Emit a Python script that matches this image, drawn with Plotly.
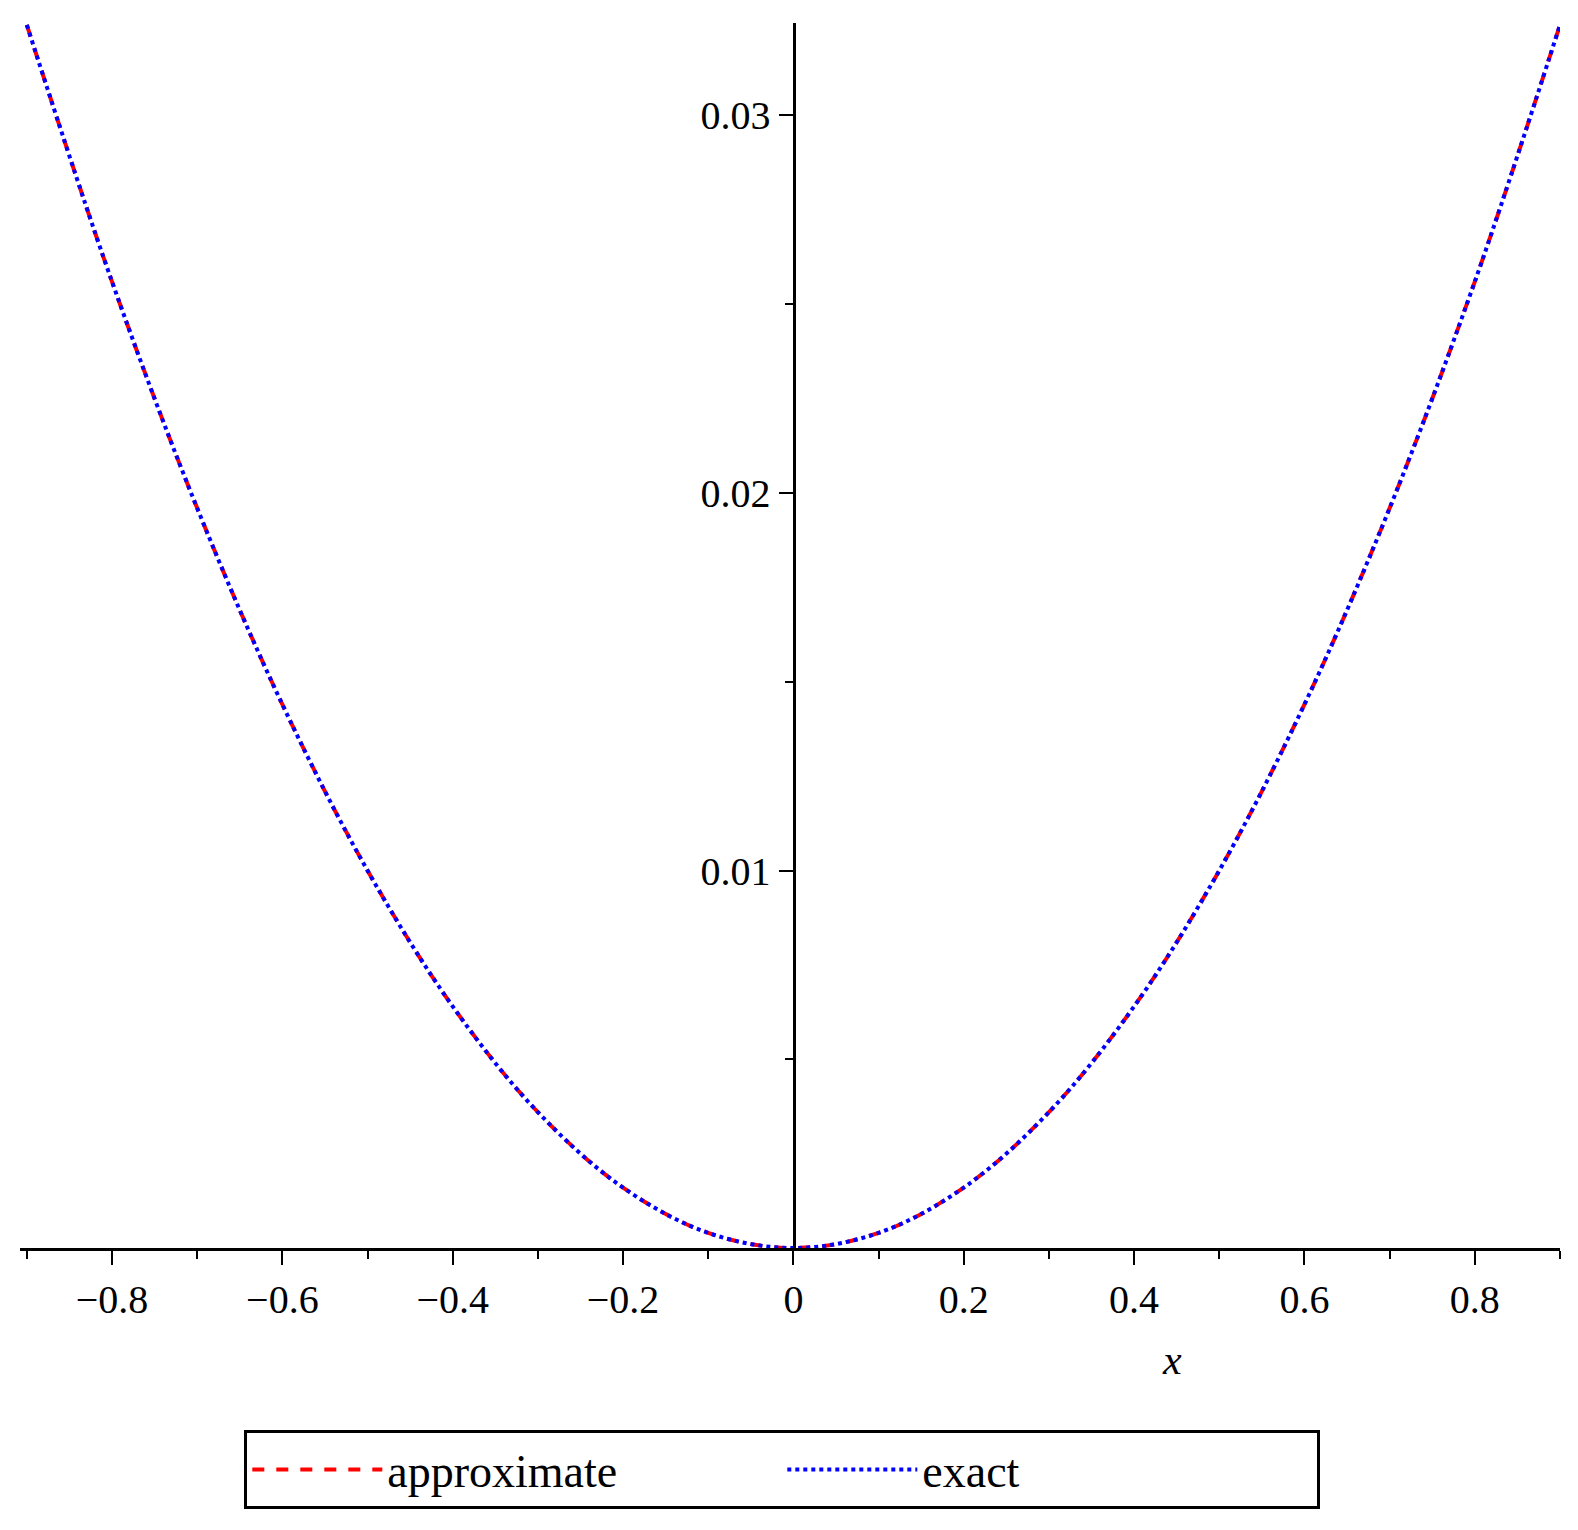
import plotly.graph_objects as go

x_vals = [-0.9, -0.8, -0.7, -0.6, -0.5, -0.4, -0.3, -0.2, -0.1, 0.0, 0.1, 0.2, 0.3, 0.4, 0.5, 0.6, 0.7, 0.8, 0.9]
approx_vals = [0.0324, 0.0256, 0.0196, 0.0144, 0.0100, 0.0064, 0.0036, 0.0016, 0.0004, 0.0, 0.0004, 0.0016, 0.0036, 0.0064, 0.0100, 0.0144, 0.0196, 0.0256, 0.0324]
exact_vals = [0.0324, 0.0256, 0.0196, 0.0144, 0.0100, 0.0064, 0.0036, 0.0016, 0.0004, 0.0, 0.0004, 0.0016, 0.0036, 0.0064, 0.0100, 0.0144, 0.0196, 0.0256, 0.0324]
x_ticks = [-0.8, -0.6, -0.4, -0.2, 0, 0.2, 0.4, 0.6, 0.8]
x_ticklabels = ["−0.8", "−0.6", "−0.4", "−0.2", "0", "0.2", "0.4", "0.6", "0.8"]
y_ticks = [0.01, 0.02, 0.03]
y_ticklabels = ["0.01", "0.02", "0.03"]

font = "Liberation Serif"
fig = go.Figure()
fig.add_trace(go.Scatter(x=x_vals, y=approx_vals, mode="lines", name="approximate",
                         line=dict(color="red", width=4, dash="dash", shape="spline")))
fig.add_trace(go.Scatter(x=x_vals, y=exact_vals, mode="lines", name="exact",
                         line=dict(color="blue", width=4, dash="dot", shape="spline")))

fig.update_layout(
    width=1578, height=1530, plot_bgcolor="white", paper_bgcolor="white",
    margin=dict(l=12, r=26, t=15, b=290),
    font=dict(family=font, size=36, color="black"),
    showlegend=True,
    legend=dict(orientation="h", x=0.495, xanchor="center", y=-0.1486, yanchor="top",
                bordercolor="black", borderwidth=3, font=dict(size=46, family=font),
                itemwidth=130, entrywidth=390),
    xaxis=dict(range=[-0.908, 0.9], tickvals=x_ticks, ticktext=x_ticklabels,
               showgrid=False, zeroline=False, showline=True, linecolor="black", linewidth=3,
               ticks="outside", ticklen=14, tickwidth=2, tickcolor="black",
               minor=dict(tickvals=[-0.9, -0.7, -0.5, -0.3, -0.1, 0.1, 0.3, 0.5, 0.7, 0.9],
                          ticks="outside", ticklen=8, tickwidth=2, tickcolor="black"),
               tickfont=dict(size=40)),
    yaxis=dict(range=[0, 0.03245], tickvals=y_ticks, ticktext=y_ticklabels,
               anchor="free", position=0.5023, showgrid=False, zeroline=False,
               showline=True, linecolor="black", linewidth=3,
               ticks="outside", ticklen=14, tickwidth=2, tickcolor="black",
               minor=dict(tickvals=[0.005, 0.015, 0.025], ticks="outside", ticklen=8,
                          tickwidth=2, tickcolor="black"),
               tickfont=dict(size=40)),
    annotations=[dict(text="<i>x</i>", x=0.445, xref="x", y=-0.112, yref="paper",
                      showarrow=False, font=dict(size=42, family=font))],
)
fig.write_html("out.html")
